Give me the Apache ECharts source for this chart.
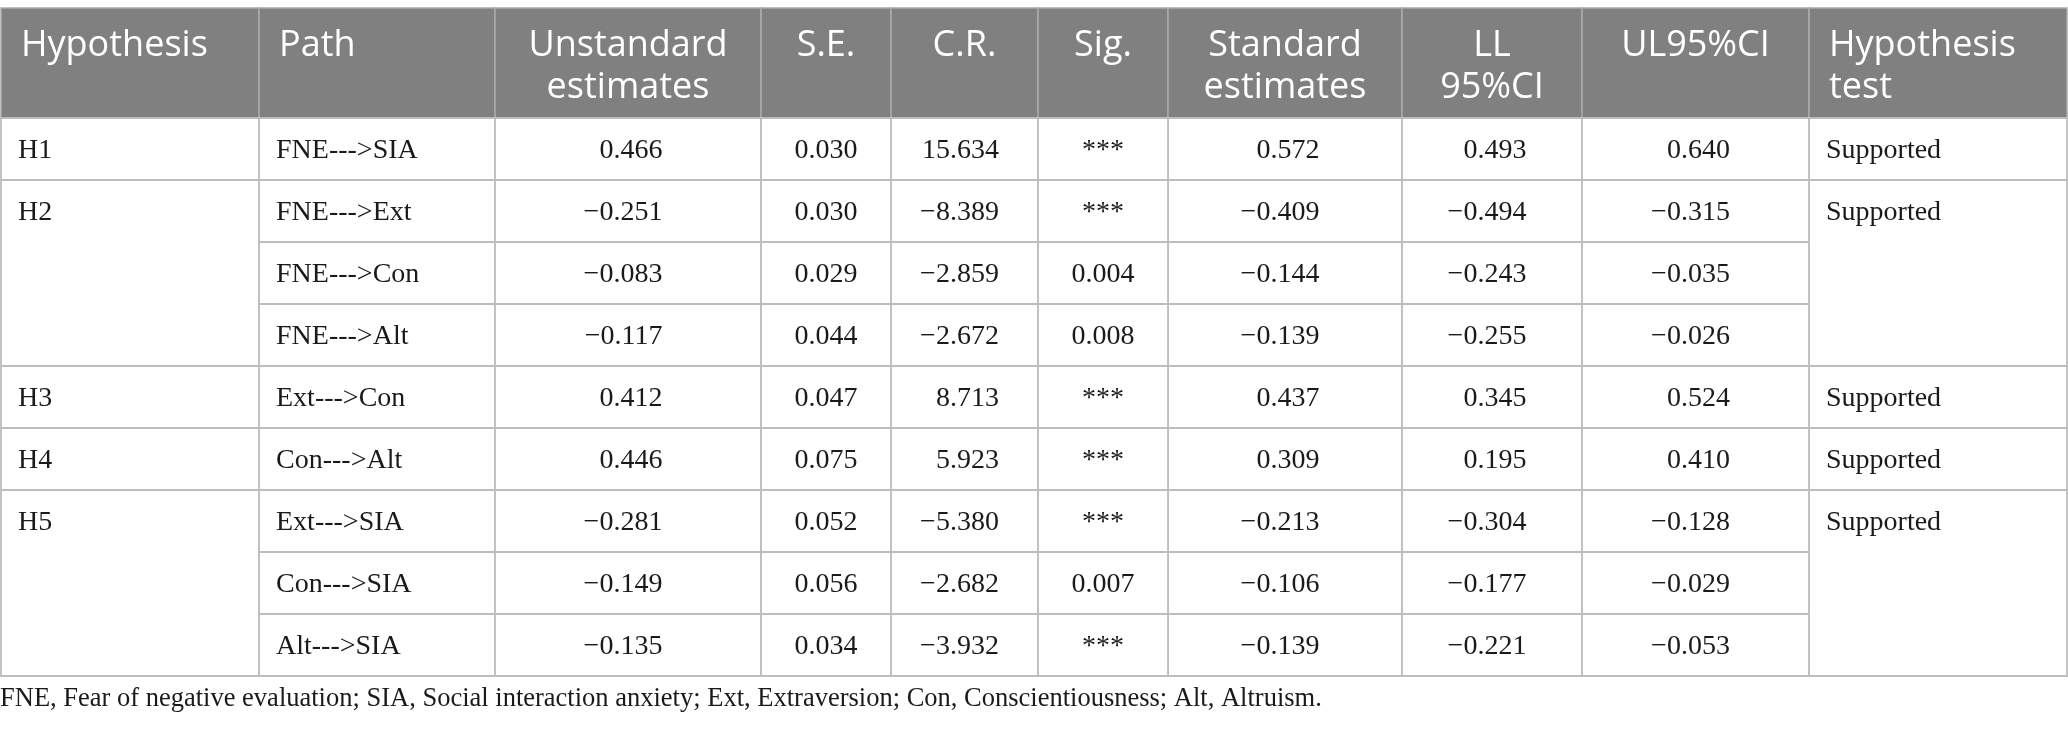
<!DOCTYPE html>
<html>
<head>
<meta charset="utf-8">
<script src="https://cdn.jsdelivr.net/npm/echarts@6/dist/echarts.min.js"></script>
<style>
html,body{margin:0;padding:0;background:#ffffff;}
#chart{width:2068px;height:733px;}
</style>
</head>
<body>
<div id="chart"></div>
<script>
// ---------- data ----------
const headers = ['Hypothesis', 'Path', 'Unstandard\nestimates', 'S.E.', 'C.R.', 'Sig.', 'Standard\nestimates', 'LL\n95%CI', 'UL95%CI', 'Hypothesis\ntest'];
const hypotheses = ['H1', 'H2', 'H3', 'H4', 'H5'];
const hypothesisPathCounts = [1, 3, 1, 1, 3];
const hypothesisTests = ['Supported', 'Supported', 'Supported', 'Supported', 'Supported'];
const paths = ['FNE--->SIA', 'FNE--->Ext', 'FNE--->Con', 'FNE--->Alt', 'Ext--->Con', 'Con--->Alt', 'Ext--->SIA', 'Con--->SIA', 'Alt--->SIA'];
const unstandardEstimates = [0.466, -0.251, -0.083, -0.117, 0.412, 0.446, -0.281, -0.149, -0.135];
const standardErrors = [0.030, 0.030, 0.029, 0.044, 0.047, 0.075, 0.052, 0.056, 0.034];
const criticalRatios = [15.634, -8.389, -2.859, -2.672, 8.713, 5.923, -5.380, -2.682, -3.932];
const significance = ['***', '***', '0.004', '0.008', '***', '***', '***', '0.007', '***'];
const standardEstimates = [0.572, -0.409, -0.144, -0.139, 0.437, 0.309, -0.213, -0.106, -0.139];
const lowerCI = [0.493, -0.494, -0.243, -0.255, 0.345, 0.195, -0.304, -0.177, -0.221];
const upperCI = [0.640, -0.315, -0.035, -0.026, 0.524, 0.410, -0.128, -0.029, -0.053];
const footnote = 'FNE, Fear of negative evaluation; SIA, Social interaction anxiety; Ext, Extraversion; Con, Conscientiousness; Alt, Altruism.';

// ---------- layout ----------
const W = 2068, H = 733;
const colEdges = [1, 259, 495, 761, 891, 1038, 1168, 1402, 1582, 1809, 2067];
const colAlign = ['left', 'left', 'num', 'num', 'num', 'center', 'num', 'num', 'num', 'left'];
const headerTop = 8, headerBottom = 118, rowHeight = 62;
const bodyFont = 'Liberation Serif', bodySize = 28;
const headFont = 'Open Sans', headSize = 36, headLine = 42;

function fmt(v) { return (v < 0 ? '\u2212' : '') + Math.abs(v).toFixed(3); }

// ---------- build cells ----------
const cells = [];
headers.forEach((h, c) => cells.push({ value: [c, -1, 1], text: h, header: true }));
let r = 0;
hypotheses.forEach((hyp, g) => {
  const n = hypothesisPathCounts[g];
  cells.push({ value: [0, r, n], text: hyp });
  cells.push({ value: [9, r, n], text: hypothesisTests[g] });
  r += n;
});
const numericCols = [[2, unstandardEstimates], [3, standardErrors], [4, criticalRatios], [6, standardEstimates], [7, lowerCI], [8, upperCI]];
paths.forEach((p, i) => {
  cells.push({ value: [1, i, 1], text: p });
  numericCols.forEach(([c, arr]) => cells.push({ value: [c, i, 1], text: fmt(arr[i]) }));
  cells.push({ value: [5, i, 1], text: significance[i] });
});

// decimal-aligned block per numeric column, centred on the column
const ctx = document.createElement('canvas').getContext('2d');
ctx.font = bodySize + 'px "' + bodyFont + '"';
const halfMax = {}, hasNeg = {};
cells.forEach(cell => {
  if (cell.header) return;
  const c = cell.value[0];
  if (colAlign[c] !== 'num') return;
  const w = ctx.measureText(cell.text).width / 2;
  halfMax[c] = Math.max(halfMax[c] || 0, w);
  if (cell.text.charAt(0) === '\u2212') hasNeg[c] = true;
});

function renderItem(params, api) {
  const c = api.value(0), row = api.value(1), span = api.value(2);
  const cell = cells[params.dataIndex];
  const isHead = row < 0;
  const yTop = isHead ? headerTop : headerBottom + row * rowHeight;
  const yBot = isHead ? headerBottom : headerBottom + (row + span) * rowHeight;
  const p0 = api.coord([colEdges[c], yTop]);
  const p1 = api.coord([colEdges[c + 1], yBot]);
  const align = colAlign[c];
  const children = [{
    type: 'rect',
    shape: { x: p0[0], y: p0[1], width: p1[0] - p0[0], height: p1[1] - p0[1] },
    style: { fill: isHead ? '#808080' : '#ffffff', stroke: isHead ? '#ababab' : '#bdbdbd', lineWidth: isHead ? 1.5 : 1.8 }
  }];
  let tx, ta;
  if (align === 'left') { tx = p0[0] + (isHead ? 20 : 17); ta = 'left'; }
  else if (align === 'center' || isHead) { tx = (p0[0] + p1[0]) / 2; ta = 'center'; }
  else { tx = (p0[0] + p1[0]) / 2 + halfMax[c] - (hasNeg[c] ? 5 : 0); ta = 'right'; }
  if (isHead) {
    children.push({
      type: 'text',
      style: { text: cell.text, x: tx, y: p0[1] + 17, fill: '#ffffff', fontFamily: headFont, fontSize: headSize, lineHeight: headLine, align: ta, verticalAlign: 'top' }
    });
  } else {
    const pm = api.coord([colEdges[c], yTop + rowHeight / 2]);
    children.push({
      type: 'text',
      style: { text: cell.text, x: tx, y: pm[1] + 2, fill: '#1a1a1a', fontFamily: bodyFont, fontSize: bodySize, align: ta, verticalAlign: 'middle' }
    });
  }
  return { type: 'group', children: children };
}

const chart = echarts.init(document.getElementById('chart'), null, { renderer: 'canvas' });
chart.setOption({
  animation: false,
  backgroundColor: '#ffffff',
  title: {
    text: footnote, left: 0, top: 686, padding: 0,
    textStyle: { fontFamily: bodyFont, fontSize: 26.5, fontWeight: 'normal', color: '#1a1a1a' }
  },
  grid: { left: 0, right: 0, top: 0, bottom: 0 },
  xAxis: { type: 'value', min: 0, max: W, show: false },
  yAxis: { type: 'value', min: 0, max: H, inverse: true, show: false },
  series: [{
    type: 'custom',
    renderItem: renderItem,
    data: cells,
    clip: false,
    silent: true
  }]
});
</script>
</body>
</html>
